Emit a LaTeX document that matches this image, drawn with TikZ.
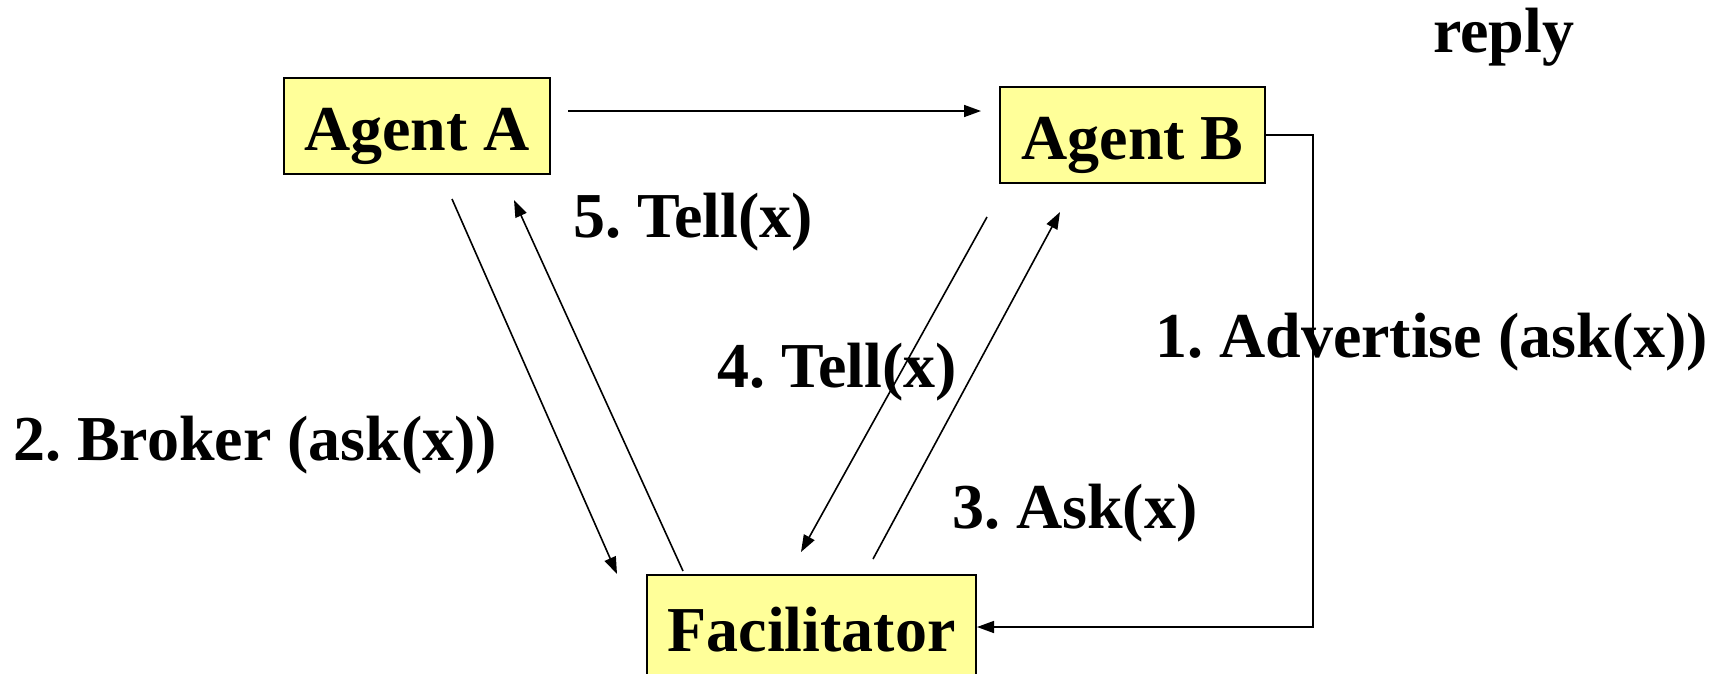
\documentclass[tikz,border=0pt]{standalone}
\usepackage{fontspec}
\setmainfont{Liberation Serif}
\usetikzlibrary{arrows.meta}
\definecolor{boxyellow}{HTML}{FFFF99}
\frenchspacing
\begin{document}
\begin{tikzpicture}[x=1pt,y=-1pt,
  every node/.style={font=\fontsize{64}{70}\selectfont\bfseries},
  agentbox/.style={draw=black, line width=2pt, fill=boxyellow, inner sep=0pt,
    text height=48pt, text depth=0pt},
  msg/.style={anchor=base west, inner sep=0pt},
  arr/.style={line width=1.6pt, -{Triangle[length=17pt,width=12pt]}}]
\useasboundingbox (0,0) rectangle (1720,673);
\clip (0,0) rectangle (1720,673);

% agents and facilitator
\node[agentbox, minimum width=266pt, minimum height=96pt] (a) at (417,126) {Agent A};
\node[agentbox, minimum width=265pt, minimum height=96pt] (b) at (1132.5,135) {Agent B};
\node[agentbox, minimum width=329pt, minimum height=104pt] (f) at (811.5,627) {Facilitator};

% end points of the slanted message arrows
\coordinate (brokerS) at (452,199);
\coordinate (brokerE) at (617,574);
\coordinate (tellAS) at (683,571);
\coordinate (tellAE) at (514,200);
\coordinate (tellBS) at (987,217);
\coordinate (tellBE) at (801,552);
\coordinate (askS) at (873,559);
\coordinate (askE) at (1060,212);

% direct reply from A to B
\draw[arr, shorten <=17pt, shorten >=18pt] ([yshift=15pt]a.east) -- ([yshift=24pt]b.west);
% advertise: B to facilitator
\draw[arr] (b.east) -- ++(47,0) |- (f.east);
% broker / tell / ask messages
\draw[arr] (brokerS) -- (brokerE);
\draw[arr] (tellAS) -- (tellAE);
\draw[arr] (tellBS) -- (tellBE);
\draw[arr] (askS) -- (askE);

% labels
\node[msg] (lreply) at (1433,52) {reply};
\node[msg] (l5) at (573,237) {5. Tell(x)};
\node[msg] (l4) at (717,387) {4. Tell(x)};
\node[msg] (l2) at (13,460) {2. Broker (ask(x))};
\node[msg] (l3) at (952,528) {3. Ask(x)};
\node[msg] (l1) at (1155,357) {1. Advertise (ask(x))};
\end{tikzpicture}
\end{document}
